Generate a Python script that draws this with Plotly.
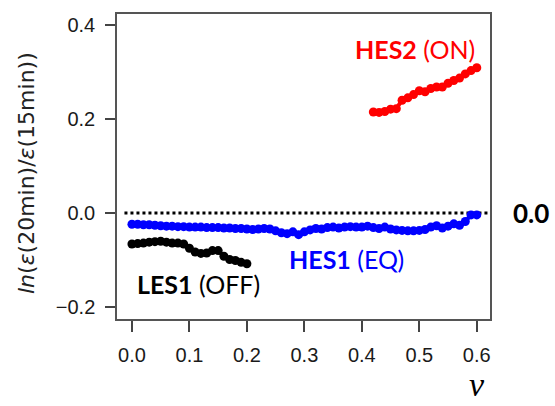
import plotly.graph_objects as go

# ---- data ----
v_les1 = [round(0.01 * i, 2) for i in range(0, 21)]
les1 = [-0.066, -0.065, -0.064, -0.062, -0.061, -0.060, -0.062, -0.064, -0.064, -0.066,
        -0.075, -0.083, -0.086, -0.085, -0.080, -0.080, -0.092, -0.099, -0.101, -0.105, -0.108]

v_hes1 = [round(0.01 * i, 2) for i in range(0, 61)]
hes1 = [-0.024, -0.024, -0.025, -0.025, -0.026, -0.027, -0.028, -0.028, -0.029, -0.029,
        -0.030, -0.030, -0.030, -0.031, -0.031, -0.031, -0.032, -0.032, -0.033, -0.033,
        -0.034, -0.035, -0.034, -0.033, -0.034, -0.038, -0.042, -0.044, -0.040, -0.046,
        -0.040, -0.036, -0.033, -0.034, -0.031, -0.030, -0.032, -0.030, -0.029, -0.030,
        -0.030, -0.028, -0.031, -0.033, -0.030, -0.034, -0.036, -0.037, -0.038, -0.038,
        -0.037, -0.035, -0.030, -0.027, -0.032, -0.028, -0.023, -0.026, -0.018, -0.004, -0.004]

v_hes2 = [round(0.01 * i, 2) for i in range(42, 61)]
hes2 = [0.215, 0.214, 0.216, 0.221, 0.222, 0.240, 0.245, 0.252, 0.260, 0.258,
        0.265, 0.268, 0.268, 0.276, 0.282, 0.287, 0.296, 0.303, 0.309]

ref_level = 0.0
x_ticks = [0.0, 0.1, 0.2, 0.3, 0.4, 0.5, 0.6]
y_ticks = [-0.2, 0.0, 0.2, 0.4]

fig = go.Figure()

fig.add_shape(type="line", xref="paper", x0=0.02, x1=1, yref="y", y0=ref_level, y1=ref_level,
              line=dict(color="black", width=3, dash="dot"), layer="below")

def add(xs, ys, color):
    fig.add_trace(go.Scatter(x=xs, y=ys, mode="lines+markers",
                             line=dict(color=color, width=4),
                             marker=dict(size=9, color=color),
                             showlegend=False, hoverinfo="skip"))

add(v_les1, les1, "#000000")
add(v_hes1, hes1, "#0000FF")
add(v_hes2, hes2, "#FF0000")

lab_font = "Lato"
fig.add_annotation(x=0.3843, y=0.349, xref="x", yref="y", xanchor="left", yanchor="middle",
                   text="<b>HES2</b> (ON)", showarrow=False,
                   font=dict(family=lab_font, size=25, color="#FF0000"))
fig.add_annotation(x=0.2696, y=-0.098, xref="x", yref="y", xanchor="left", yanchor="middle",
                   text="<b>HES1</b> (EQ)", showarrow=False,
                   font=dict(family=lab_font, size=25, color="#0000FF"))
fig.add_annotation(x=0.0052, y=-0.151, xref="x", yref="y", xanchor="left", yanchor="middle",
                   text="<b>LES1</b> (OFF)", showarrow=False,
                   font=dict(family=lab_font, size=25, color="#000000"))
fig.add_annotation(x=1.056, y=ref_level, xref="paper", yref="y", xanchor="left", yanchor="middle",
                   text="<b>0.0</b>", showarrow=False,
                   font=dict(family=lab_font, size=26, color="#000000"))
fig.add_annotation(x=0.965, y=-0.283, xref="paper", yref="paper", xanchor="center", yanchor="bottom",
                   text="<i>ν</i>", showarrow=False,
                   font=dict(family="Liberation Serif", size=34, color="#000000"))
fig.add_annotation(x=-0.241, y=0.479, xref="paper", yref="paper", xanchor="center", yanchor="middle",
                   text="<i>ln</i>(<i>ε</i>(20min)/<i>ε</i>(15min))", textangle=-90, showarrow=False,
                   font=dict(family="DejaVu Sans", size=22, color="#222222"))

fig.update_xaxes(range=[-0.026, 0.623], tickvals=x_ticks, tickformat=".1f",
                 ticks="outside", ticklen=11, tickwidth=1.5, tickcolor="#444444",
                 showline=True, mirror=True, linecolor="#555555", linewidth=1.5,
                 showgrid=False, zeroline=False, ticklabelstandoff=6,
                 tickfont=dict(family="Liberation Sans", size=20, color="#1a1a1a"))
fig.update_yaxes(range=[-0.2255, 0.4234], tickvals=y_ticks, tickformat=".1f",
                 ticks="outside", ticklen=10, tickwidth=1.5, tickcolor="#444444",
                 showline=True, mirror=True, linecolor="#555555", linewidth=1.5,
                 showgrid=False, zeroline=False, ticklabelstandoff=6,
                 tickfont=dict(family="Liberation Sans", size=20, color="#1a1a1a"))

fig.update_layout(width=555, height=406, margin=dict(l=117, r=65, t=12, b=87),
                  plot_bgcolor="white", paper_bgcolor="white", showlegend=False)

fig.write_html("out.html")
